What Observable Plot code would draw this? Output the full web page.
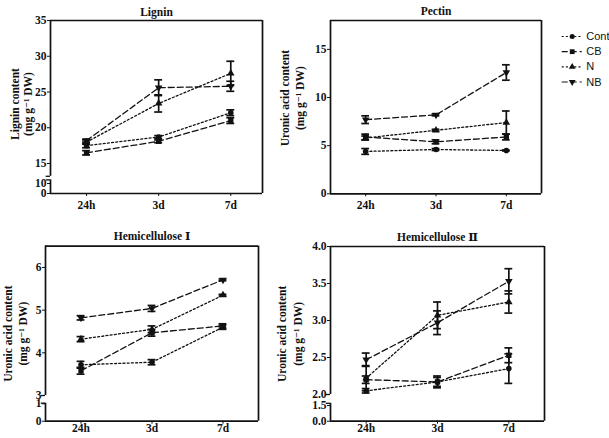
<!DOCTYPE html>
<html><head><meta charset="utf-8">
<script src="https://cdn.jsdelivr.net/npm/d3@7"></script>
<script src="https://cdn.jsdelivr.net/npm/@observablehq/plot@0.6"></script>
<style>
body{margin:0;background:#fff;}
#root{position:relative;width:609px;height:438px;overflow:hidden;background:#fff;}
#root > svg{position:absolute;}
</style></head><body><div id="root"></div>
<script>
const times = ["24h", "3d", "7d"];
const series = ["Cont", "CB", "N", "NB"];

// values: one row per series (order of `series`), one column per time
const ligninMean = [[17.5, 18.7, 22.1], [16.5, 18.1, 21.0], [18.0, 23.4, 27.6], [18.2, 25.6, 25.8]];
const ligninErr  = [[0.3, 0.2, 0.4], [0.3, 0.2, 0.4], [0.3, 1.2, 1.7], [0.2, 1.1, 0.7]];
const pectinMean = [[4.4, 4.6, 4.5], [5.9, 5.4, 5.9], [5.8, 6.6, 7.4], [7.7, 8.2, 12.6]];
const pectinErr  = [[0.3, 0.1, 0.05], [0.3, 0.2, 0.3], [0.2, 0.1, 1.2], [0.4, 0.1, 0.8]];
const hemi1Mean  = [[3.72, 3.78, 4.60], [3.58, 4.47, 4.63], [4.32, 4.55, 5.35], [4.82, 5.04, 5.71]];
const hemi1Err   = [[0.08, 0.06, 0.05], [0.08, 0.08, 0.05], [0.06, 0.08, 0.02], [0.05, 0.07, 0.02]];
const hemi2Mean  = [[2.05, 2.17, 2.35], [2.20, 2.17, 2.53], [2.22, 3.07, 3.25], [2.47, 2.97, 3.53]];
const hemi2Err   = [[0.03, 0.08, 0.20], [0.05, 0.06, 0.10], [0.17, 0.18, 0.15], [0.09, 0.16, 0.17]];

const ligninTicks = [0, 10, 15, 20, 25, 30, 35];
const pectinTicks = [0, 5, 10, 15];
const hemi1Ticks = [0, 1, 3, 4, 5, 6];
const hemi2Ticks = [0, 1.5, 2, 2.5, 3, 3.5, 4];

const ink = "#111";
const dash = {Cont: "2,2.2", CB: "6,3", N: "2,2.2", NB: "6,3"};
const triangleDown = {
  draw(ctx, size) {
    const y = -Math.sqrt(size / (Math.sqrt(3) * 3));
    ctx.moveTo(0, -y * 2);
    ctx.lineTo(-Math.sqrt(3) * y, y);
    ctx.lineTo(Math.sqrt(3) * y, y);
    ctx.closePath();
  }
};
const symbols = {Cont: "circle", CB: "square", N: "triangle", NB: triangleDown};
const symR = {Cont: 2.8, CB: 3, N: 2.8, NB: 2.8};
const serif = "'Liberation Serif', 'DejaVu Serif', serif";

function panel(c) {
  // broken axis: a piecewise d3 scale maps values to an unbroken "axis length" coordinate
  const brk = d3.scaleLinear().domain(c.yDomain).range(c.yLen);
  const rows = [];
  series.forEach((s, k) => times.forEach((t, i) => rows.push({s, x: i, y: c.mean[k][i], e: c.err[k][i]})));
  const x0 = -0.5, x1 = c.xMax;
  const y0 = c.yDomain[0], yTop = c.yDomain[c.yDomain.length - 1];
  const fw = 1.7;
  const Y = v => brk(v);
  const marks = [];
  marks.push(Plot.ruleY([yTop], {y: Y, x1: x0, x2: x1, stroke: ink, strokeWidth: fw}));
  marks.push(Plot.ruleY([y0], {y: Y, x1: x0, x2: x1, stroke: ink, strokeWidth: fw}));
  marks.push(Plot.ruleX([x1], {y1: Y(y0), y2: Y(yTop), stroke: ink, strokeWidth: fw}));
  if (c.brk) {
    marks.push(Plot.ruleX([x0], {y1: Y(y0), y2: Y(c.brk[0]), stroke: ink, strokeWidth: fw}));
    marks.push(Plot.ruleX([x0], {y1: Y(c.brk[1]), y2: Y(yTop), stroke: ink, strokeWidth: fw}));
    marks.push(Plot.ruleY(c.brk, {y: Y, x1: x0 - c.brkCap, x2: x0, stroke: ink, strokeWidth: 1.3}));
  } else {
    marks.push(Plot.ruleX([x0], {y1: Y(y0), y2: Y(yTop), stroke: ink, strokeWidth: fw}));
  }
  series.forEach(s => marks.push(Plot.line(rows.filter(d => d.s === s), {
    x: "x", y: d => Y(d.y), stroke: ink, strokeWidth: 1.3, strokeDasharray: dash[s]
  })));
  marks.push(Plot.ruleX(rows, {x: "x", y1: d => Y(d.y - d.e), y2: d => Y(d.y + d.e), stroke: ink, strokeWidth: 1.7}));
  marks.push(Plot.ruleY(rows, {y: d => Y(d.y + d.e), x1: d => d.x - c.cap, x2: d => d.x + c.cap, stroke: ink, strokeWidth: 1.7}));
  marks.push(Plot.ruleY(rows, {y: d => Y(d.y - d.e), x1: d => d.x - c.cap, x2: d => d.x + c.cap, stroke: ink, strokeWidth: 1.7}));
  series.forEach(s => marks.push(Plot.dot(rows.filter(d => d.s === s), {
    x: "x", y: d => Y(d.y), r: symR[s], symbol: symbols[s], fill: ink, stroke: "none"
  })));
  marks.push(Plot.text([c.title], {text: d => d, frameAnchor: "top", dy: c.titleDy, fontSize: 11.5, fontWeight: "bold", fill: ink}));
  c.ylab.forEach((l, j) => marks.push(Plot.text([l], {
    text: d => d, frameAnchor: "left", textAnchor: "middle", rotate: -90, dx: c.labDx[j], dy: c.labDy,
    fontSize: 11.5, fontWeight: "bold", fill: ink
  })));
  const labelOf = new Map(c.yTicks.map(t => [brk(t), c.yFormat(t)]));
  const svg = Plot.plot({
    width: c.width, height: c.height,
    marginLeft: c.xRange[0], marginRight: c.width - c.xRange[1],
    marginTop: c.yRange[1], marginBottom: c.height - c.yRange[0],
    style: {fontFamily: serif, fontWeight: "bold", fontSize: "11.5px", color: ink, background: "transparent", overflow: "visible"},
    x: {domain: [x0, x1], range: c.xRange, ticks: [0, 1, 2], tickFormat: i => times[i], tickSize: 3, tickPadding: c.xPad, label: null},
    y: {domain: [Y(y0), Y(yTop)], range: c.yRange, ticks: c.yTicks.map(Y), tickFormat: t => labelOf.get(t), tickSize: 3, tickPadding: 1, label: null},
    marks
  });
  svg.style.left = c.left + "px";
  svg.style.top = c.top + "px";
  return svg;
}

const root = document.getElementById("root");
const intFmt = d => d3.format("d")(d);

root.appendChild(panel({
  title: "Lignin", ylab: ["Lignin content", "(mg g\u207B\u00B9 DW)"],
  mean: ligninMean, err: ligninErr,
  left: 0, top: 0, width: 300, height: 215,
  xRange: [50, 262], xMax: 2.44, xPad: 4,
  yDomain: [0, 10, 15, 35], yLen: [0, 10, 30, 173], yRange: [193, 20], yTicks: ligninTicks, yFormat: intFmt,
  brk: [10.9, 11.8], brkCap: 0.06, cap: 0.055,
  titleDy: -13, labDx: [-35, -22], labDy: -3
}));
root.appendChild(panel({
  title: "Pectin", ylab: ["Uronic acid content", "(mg g\u207B\u00B9 DW)"],
  mean: pectinMean, err: pectinErr,
  left: 270, top: 0, width: 290, height: 215,
  xRange: [60, 271], xMax: 2.5, xPad: 4,
  yDomain: [0, 18], yLen: [0, 18], yRange: [193.3, 20], yTicks: pectinTicks, yFormat: intFmt,
  brk: null, cap: 0.055,
  titleDy: -14, labDx: [-45, -30], labDy: -9
}));
root.appendChild(panel({
  title: "Hemicellulose \u2160", ylab: ["Uronic acid content", "(mg g\u207B\u00B9 DW)"],
  mean: hemi1Mean, err: hemi1Err,
  left: 0, top: 215, width: 300, height: 223,
  xRange: [45, 258], xMax: 2.5, xPad: 0,
  yDomain: [0, 1, 3, 6.5], yLen: [0, 17.4, 25.7, 175.1], yRange: [205.7, 30.6], yTicks: hemi1Ticks, yFormat: intFmt,
  brk: [1.15, 3], brkCap: 0.06, cap: 0.055,
  titleDy: -14, labDx: [-37, -22], labDy: 0
}));
root.appendChild(panel({
  title: "Hemicellulose \u2161", ylab: ["Uronic acid content", "(mg g\u207B\u00B9 DW)"],
  mean: hemi2Mean, err: hemi2Err,
  left: 270, top: 215, width: 290, height: 223,
  xRange: [60, 274], xMax: 2.5, xPad: 0,
  yDomain: [0, 1.5, 2, 4], yLen: [0, 15.7, 26.7, 174.7], yRange: [205.7, 31], yTicks: hemi2Ticks, yFormat: d => d3.format(".1f")(d),
  brk: [1.6, 2], brkCap: 0.06, cap: 0.055,
  titleDy: -14, labDx: [-48, -32], labDy: 0
}));

// legend
const legRows = series.map((s, k) => ({s, k}));
const legMarks = [];
legRows.forEach(r => {
  legMarks.push(Plot.ruleY([r.k], {x1: 0, x2: 1, stroke: ink, strokeWidth: 1.2, strokeDasharray: dash[r.s]}));
  legMarks.push(Plot.dot([r], {x: () => 0.5, y: "k", r: symR[r.s] * 0.9, symbol: symbols[r.s], fill: ink, stroke: "none"}));
});
legMarks.push(Plot.text(legRows, {x: () => 1, y: "k", text: "s", dx: 4, textAnchor: "start", fill: ink}));
const legend = Plot.plot({
  width: 61, height: 64, margin: 0,
  style: {fontFamily: "'Liberation Sans', Arial, sans-serif", fontSize: "11px", color: ink, background: "transparent", overflow: "visible"},
  x: {domain: [0, 1], range: [13.7, 33.7], axis: null},
  y: {domain: [0, 3], range: [10, 55.5], axis: null},
  marks: legMarks
});
legend.style.left = "548px";
legend.style.top = "26px";
root.appendChild(legend);
</script></body></html>
